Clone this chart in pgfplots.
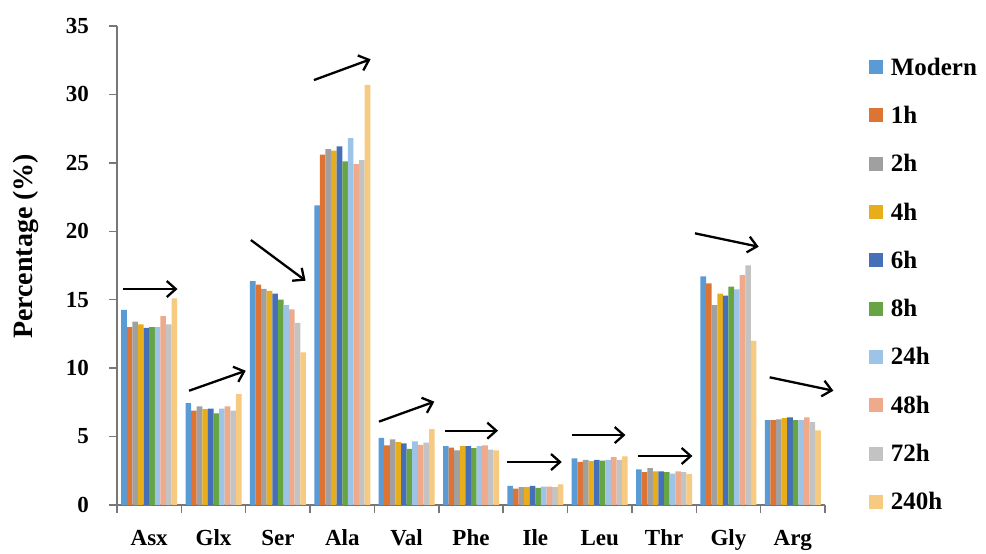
\documentclass[border=0pt]{standalone}
\usepackage{fontspec}
\setmainfont{Liberation Serif}
\usepackage{pgfplots}
\usepackage{pgfplotstable}
\pgfplotsset{compat=1.18}
\usetikzlibrary{arrows.meta}
\definecolor{cM}{HTML}{5B9BD5}
\definecolor{cA}{HTML}{DD7433}
\definecolor{cB}{HTML}{A0A0A0}
\definecolor{cC}{HTML}{E8AD1A}
\definecolor{cD}{HTML}{4570B8}
\definecolor{cE}{HTML}{66A444}
\definecolor{cF}{HTML}{9DC3E6}
\definecolor{cG}{HTML}{EFAA8C}
\definecolor{cH}{HTML}{C3C3C3}
\definecolor{cI}{HTML}{F6CA80}
\definecolor{axgray}{HTML}{777777}
\pgfplotstableread{
x M h1 h2 h4 h6 h8 h24 h48 h72 h240
0 14.25 13.0 13.4 13.2 12.95 13.0 13.0 13.8 13.2 15.1
1 7.45 6.9 7.2 7.0 7.05 6.7 7.05 7.2 6.9 8.1
2 16.35 16.1 15.8 15.65 15.45 15.0 14.6 14.3 13.3 11.15
3 21.9 25.6 26.0 25.9 26.2 25.1 26.8 24.9 25.2 30.7
4 4.9 4.35 4.8 4.6 4.5 4.1 4.65 4.4 4.55 5.55
5 4.3 4.2 4.0 4.3 4.3 4.15 4.3 4.35 4.05 4.0
6 1.4 1.2 1.3 1.3 1.4 1.25 1.35 1.35 1.3 1.5
7 3.4 3.15 3.3 3.2 3.3 3.25 3.3 3.5 3.3 3.55
8 2.6 2.4 2.7 2.45 2.45 2.4 2.3 2.45 2.4 2.25
9 16.7 16.2 14.6 15.45 15.3 15.95 15.75 16.8 17.5 12.0
10 6.2 6.2 6.25 6.35 6.4 6.2 6.2 6.4 6.05 5.45
}\datatable
\begin{document}
\begin{tikzpicture}[x=1pt,y=1pt]
\path[use as bounding box] (0,0) rectangle (986,554);
\begin{axis}[
  at={(117pt,49pt)}, anchor=south west,
  scale only axis, width=708pt, height=479pt,
  xmin=-0.5, xmax=10.5, ymin=0, ymax=35,
  ybar=0pt, bar width=5.6pt,
  clip=false,
  axis x line*=bottom, axis y line*=left,
  axis line style={draw=axgray, line width=1.5pt},
  xtick={0,...,10},
  xticklabels={Asx,Glx,Ser,Ala,Val,Phe,Ile,Leu,Thr,Gly,Arg},
  major x tick style={draw=none},
  minor xtick={-0.5,0.5,...,10.5},
  ytick={0,5,...,35},
  tick align=outside,
  major tick length=8pt, minor tick length=8pt,
  every tick/.style={draw=axgray, line width=1.5pt},
  /pgf/number format/assume math mode=true,
  tick label style={font=\bfseries\fontsize{23}{27}\selectfont},
  yticklabel style={inner sep=0pt, xshift=-20pt},
  xticklabel style={anchor=base, yshift=-33pt},
  ylabel={Percentage (\%)},
  every axis y label/.style={at={(axis description cs:-0.128,0.54)}, rotate=90, anchor=center,
    font=\bfseries\fontsize{28}{32}\selectfont},
  legend style={at={(axis description cs:1.062,0.935)}, anchor=north west,
    draw=none, fill=none, inner sep=0pt, outer sep=0pt,
    row sep=24.3pt, column sep=8pt,
    nodes={inner sep=0pt, text height=18pt, text depth=6pt},
    font=\bfseries\fontsize{25}{29}\selectfont},
  legend cell align=left,
  legend image code/.code={\fill[#1] (0pt,-5pt) rectangle (14pt,9pt);},
]
\addplot[draw=none, fill=cM] table[x=x,y=M]{\datatable};
\addplot[draw=none, fill=cA] table[x=x,y=h1]{\datatable};
\addplot[draw=none, fill=cB] table[x=x,y=h2]{\datatable};
\addplot[draw=none, fill=cC] table[x=x,y=h4]{\datatable};
\addplot[draw=none, fill=cD] table[x=x,y=h6]{\datatable};
\addplot[draw=none, fill=cE] table[x=x,y=h8]{\datatable};
\addplot[draw=none, fill=cF] table[x=x,y=h24]{\datatable};
\addplot[draw=none, fill=cG] table[x=x,y=h48]{\datatable};
\addplot[draw=none, fill=cH] table[x=x,y=h72]{\datatable};
\addplot[draw=none, fill=cI] table[x=x,y=h240]{\datatable};
\legend{Modern,1h,2h,4h,6h,8h,24h,48h,72h,240h}
\begin{scope}[line width=2.3pt, -{Straight Barb[length=9pt,width=16pt]}]
\draw (axis cs:-0.40,15.78) -- (axis cs:0.44,15.78);
\draw (axis cs:0.62,8.35) -- (axis cs:1.50,9.81);
\draw (axis cs:1.58,19.36) -- (axis cs:2.43,16.39);
\draw (axis cs:2.56,31.05) -- (axis cs:3.44,32.57);
\draw (axis cs:3.57,6.09) -- (axis cs:4.43,7.55);
\draw (axis cs:4.60,5.43) -- (axis cs:5.42,5.43);
\draw (axis cs:5.56,3.14) -- (axis cs:6.41,3.14);
\draw (axis cs:6.57,5.11) -- (axis cs:7.40,5.11);
\draw (axis cs:7.60,3.58) -- (axis cs:8.44,3.58);
\draw (axis cs:8.48,19.85) -- (axis cs:9.47,18.87);
\draw (axis cs:9.64,9.33) -- (axis cs:10.63,8.35);
\end{scope}
\end{axis}
\end{tikzpicture}
\end{document}
